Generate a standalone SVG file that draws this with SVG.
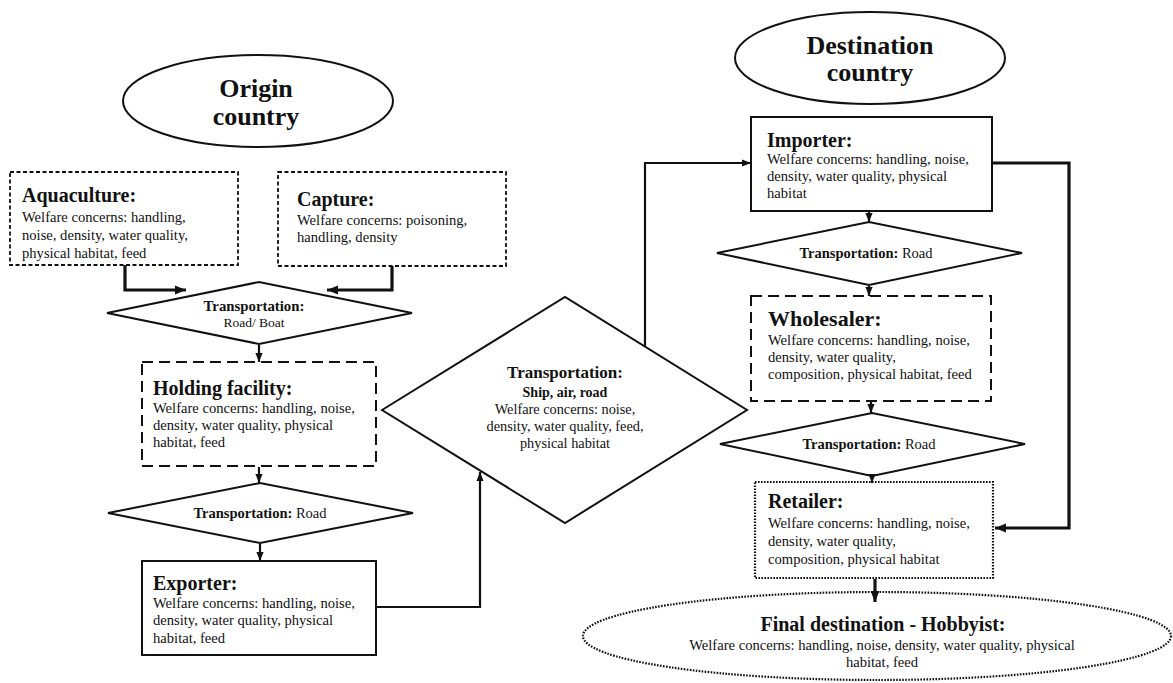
<svg xmlns="http://www.w3.org/2000/svg" width="1173" height="683" viewBox="0 0 1173 683">
<style>
text{font-family:"Liberation Serif","Times New Roman",serif;fill:#111}
.t{font-weight:bold;font-size:20px}
.big{font-weight:bold;font-size:26px}
.w{font-size:14.6px}
.b{font-weight:bold}
.shape{fill:#fff;stroke:#111;stroke-width:2}
.fine{stroke-dasharray:4 2.5;stroke-width:1.8}
.long{stroke-dasharray:11 6}
.dot{stroke-dasharray:1.6 1.4;stroke-width:2.2}
.c{fill:none;stroke:#111;stroke-width:2.2}
.ct{fill:none;stroke:#111;stroke-width:3.2}
</style>
<defs>
<marker id="ah" viewBox="0 0 10 10" refX="10" refY="5" markerWidth="9" markerHeight="9" markerUnits="userSpaceOnUse" orient="auto"><path d="M0,1 L10,5 L0,9 z" fill="#111"/></marker>
<marker id="ahb" viewBox="0 0 10 10" refX="10" refY="5" markerWidth="11" markerHeight="11" markerUnits="userSpaceOnUse" orient="auto"><path d="M0,1 L10,5 L0,9 z" fill="#111"/></marker>
</defs>
<rect width="1173" height="683" fill="#fff"/>

<g id="origin">
<ellipse class="shape" cx="258" cy="101" rx="135" ry="46"/>
<text class="big" x="256" y="97" text-anchor="middle">Origin</text>
<text class="big" x="256" y="125" text-anchor="middle">country</text>
</g>

<g id="destination">
<ellipse class="shape" cx="870" cy="58" rx="135" ry="46"/>
<text class="big" x="870" y="54" text-anchor="middle">Destination</text>
<text class="big" x="870" y="81" text-anchor="middle">country</text>
</g>

<g id="aquaculture">
<rect class="shape fine" x="10" y="172" width="228" height="93"/>
<text class="t" x="22" y="202">Aquaculture:</text>
<text class="w" x="22" y="222">Welfare concerns: handling,</text>
<text class="w" x="22" y="240">noise, density, water quality,</text>
<text class="w" x="22" y="258">physical habitat, feed</text>
</g>

<g id="capture">
<rect class="shape fine" x="278" y="172" width="228" height="94"/>
<text class="t" x="297" y="206">Capture:</text>
<text class="w" x="297" y="225">Welfare concerns: poisoning,</text>
<text class="w" x="297" y="242">handling, density</text>
</g>

<g id="transport-road-boat">
<polygon class="shape" points="107,313 259,282 412,313 259,344"/>
<text x="254" y="311" text-anchor="middle" class="b" font-size="14.8">Transportation:</text>
<text x="254" y="327" text-anchor="middle" font-size="13.5">Road/ Boat</text>
</g>

<g id="holding">
<rect class="shape long" x="142" y="362" width="234" height="104"/>
<text class="t" x="153" y="395">Holding facility:</text>
<text class="w" x="153" y="413">Welfare concerns: handling, noise,</text>
<text class="w" x="153" y="430">density, water quality, physical</text>
<text class="w" x="153" y="447">habitat, feed</text>
</g>

<g id="transport-road-left">
<polygon class="shape" points="108,513 260,483 413,513 260,543"/>
<text x="260" y="518" text-anchor="middle" font-size="14.5"><tspan class="b">Transportation:</tspan> Road</text>
</g>

<g id="exporter">
<rect class="shape" x="142" y="561" width="234" height="94"/>
<text class="t" x="153" y="590">Exporter:</text>
<text class="w" x="153" y="608">Welfare concerns: handling, noise,</text>
<text class="w" x="153" y="625">density, water quality, physical</text>
<text class="w" x="153" y="643">habitat, feed</text>
</g>

<g id="transport-international">
<polygon class="shape" points="382,410 565,297 747,410 565,523"/>
<text x="565" y="378" text-anchor="middle" class="b" font-size="17">Transportation:</text>
<text x="565" y="397" text-anchor="middle" class="b" font-size="14">Ship, air, road</text>
<text x="565" y="414" text-anchor="middle" font-size="14.3">Welfare concerns: noise,</text>
<text x="565" y="431" text-anchor="middle" font-size="14.3">density, water quality, feed,</text>
<text x="565" y="448" text-anchor="middle" font-size="14.3">physical habitat</text>
</g>

<g id="importer">
<rect class="shape" x="751" y="117" width="241" height="94"/>
<text class="t" x="767" y="147">Importer:</text>
<text class="w" x="767" y="164">Welfare concerns: handling, noise,</text>
<text class="w" x="767" y="181">density, water quality, physical</text>
<text class="w" x="767" y="198">habitat</text>
</g>

<g id="transport-road-right-1">
<polygon class="shape" points="717,253 869,222 1022,253 869,285"/>
<text x="866" y="258" text-anchor="middle" font-size="14.5"><tspan class="b">Transportation:</tspan> Road</text>
</g>

<g id="wholesaler">
<rect class="shape long" x="751" y="296" width="240" height="105"/>
<text x="768" y="326" class="b" font-size="22">Wholesaler:</text>
<text class="w" x="768" y="345">Welfare concerns: handling, noise,</text>
<text class="w" x="768" y="362">density, water quality,</text>
<text class="w" x="768" y="379">composition, physical habitat, feed</text>
</g>

<g id="transport-road-right-2">
<polygon class="shape" points="720,444 872,413 1025,444 872,476"/>
<text x="869" y="449" text-anchor="middle" font-size="14.5"><tspan class="b">Transportation:</tspan> Road</text>
</g>

<g id="retailer">
<rect class="shape dot" x="755" y="482" width="238" height="96"/>
<text class="t" x="768" y="508">Retailer:</text>
<text class="w" x="768" y="528">Welfare concerns: handling, noise,</text>
<text class="w" x="768" y="546">density, water quality,</text>
<text class="w" x="768" y="564">composition, physical habitat</text>
</g>

<g id="final-destination">
<ellipse class="shape dot" cx="877" cy="636" rx="294" ry="44"/>
<text class="t" x="883" y="631" text-anchor="middle">Final destination - Hobbyist:</text>
<text class="w" x="882" y="650" text-anchor="middle">Welfare concerns: handling, noise, density, water quality, physical</text>
<text class="w" x="882" y="667" text-anchor="middle">habitat, feed</text>
</g>

<g id="connectors">
<path class="ct" d="M125,265 V290 H186" marker-end="url(#ahb)"/>
<path class="ct" d="M392,266 V290 H327" marker-end="url(#ahb)"/>
<path class="c" d="M259,345 V362" marker-end="url(#ah)"/>
<path class="c" d="M259,467 V483" marker-end="url(#ah)"/>
<path class="c" d="M260,544 V561" marker-end="url(#ah)"/>
<path class="c" d="M377,607 H480 V472" marker-end="url(#ah)"/>
<path class="c" d="M645,347 V163 H751" marker-end="url(#ah)"/>
<path class="c" d="M869,212 V222" marker-end="url(#ah)"/>
<path class="c" d="M869,286 V296" marker-end="url(#ah)"/>
<path class="c" d="M871,402 V413" marker-end="url(#ah)"/>
<path class="c" d="M872,477 V483" marker-end="url(#ah)"/>
<path class="ct" d="M993,163 H1069 V528 H995" marker-end="url(#ahb)"/>
<path class="ct" d="M875,579 V602" marker-end="url(#ahb)"/>
</g>
</svg>
